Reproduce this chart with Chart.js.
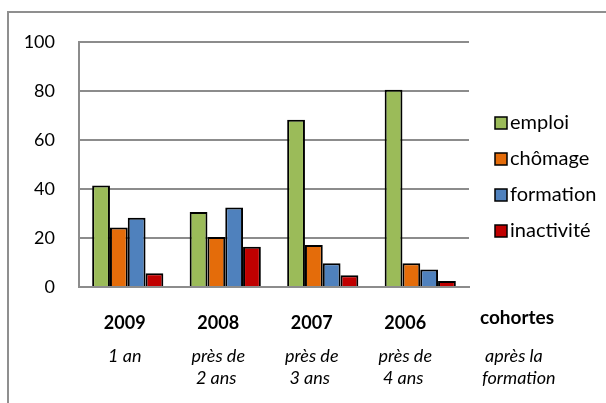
<!DOCTYPE html>
<html>
<head>
<meta charset="utf-8">
<script src="https://cdn.jsdelivr.net/npm/chart.js@4"></script>
<style>
  html, body { margin: 0; padding: 0; background: #fff; }
  #wrap { position: relative; width: 606px; height: 403px; }
</style>
</head>
<body>
<div id="wrap"><canvas id="chart" width="606" height="403"></canvas></div>
<script>
/* Situation des cohortes après la formation */

const cohortes = ["2009", "2008", "2007", "2006"];
const delais = [["1 an"], ["près de", "2 ans"], ["près de", "3 ans"], ["près de", "4 ans"]];
const emploi = [41.4, 30.6, 68.3, 80.5];
const chomage = [24.3, 20.4, 17.1, 9.7];
const formation = [28.3, 32.5, 9.7, 7.1];
const inactivite = [5.6, 16.4, 4.8, 2.5];
const yTicks = [0, 20, 40, 60, 80, 100];

const FONT = "Lato, 'Open Sans', sans-serif";
const GRID = "#8c8c8c";

const decorPlugin = {
  id: "decor",
  beforeDraw(chart) {
    const { ctx, width, height } = chart;
    ctx.save();
    ctx.fillStyle = "#fff";
    ctx.fillRect(0, 0, width, height);
    // outer frame (only left and top visible)
    ctx.strokeStyle = "#8f8f8f";
    ctx.lineWidth = 2;
    ctx.beginPath();
    ctx.moveTo(8, height);
    ctx.lineTo(8, 12);
    ctx.lineTo(width, 12);
    ctx.stroke();
    ctx.restore();
  },
  afterDraw(chart) {
    const { ctx, chartArea } = chart;
    const x = chart.scales.x;
    ctx.save();
    ctx.fillStyle = "#000";
    ctx.textAlign = "center";
    ctx.textBaseline = "middle";
    cohortes.forEach((c, i) => {
      const cx = x.getPixelForValue(i) - 3 - 4 * i;
      ctx.font = "bold 18px " + FONT;
      ctx.fillText(c, cx, 323);
      ctx.font = "italic 18px " + FONT;
      delais[i].forEach((line, j) => {
        ctx.fillText(line, cx + (j ? -2 : 0), 356 + j * 22);
      });
    });
    ctx.font = "bold 19px " + FONT;
    ctx.fillText("cohortes", chartArea.right + 48, 318);
    ctx.font = "italic 18px " + FONT;
    ctx.textAlign = "left";
    ctx.fillText("après la", chartArea.right + 16, 356);
    ctx.fillText("formation", chartArea.right + 13, 378);

    // legend
    ctx.font = "20px " + FONT;
    chart.data.datasets.forEach((ds, i) => {
      const ly = 123 + i * 36;
      ctx.fillStyle = ds.backgroundColor;
      ctx.fillRect(495, ly - 6, 12, 12);
      ctx.strokeStyle = "#000";
      ctx.lineWidth = 1.5;
      ctx.strokeRect(495, ly - 6, 12, 12);
      ctx.fillStyle = "#000";
      ctx.textAlign = "left";
      ctx.fillText(ds.label, 510, ly);
    });
    ctx.restore();
  }
};

function bars(label, data, color) {
  return {
    label,
    data,
    backgroundColor: color,
    borderColor: "#000",
    borderWidth: 2,
    barPercentage: 1,
    categoryPercentage: 0.73
  };
}

new Chart(document.getElementById("chart"), {
  type: "bar",
  data: {
    labels: cohortes,
    datasets: [
      bars("emploi", emploi, "#9bbb59"),
      bars("chômage", chomage, "#e46c0a"),
      bars("formation", formation, "#4f81bd"),
      bars("inactivité", inactivite, "#c00000")
    ]
  },
  options: {
    responsive: false,
    animation: false,
    layout: { padding: { top: 42, right: 137, bottom: 108, left: 0 } },
    plugins: { legend: { display: false }, tooltip: { enabled: false } },
    scales: {
      x: {
        ticks: { display: false },
        grid: { display: false },
        border: { display: true, color: GRID, width: 2 }
      },
      y: {
        min: 0,
        max: 100,
        afterFit(scale) { scale.width = 79; },
        afterBuildTicks(scale) { scale.ticks = yTicks.map((v) => ({ value: v })); },
        ticks: { color: "#000", font: { family: FONT, size: 18 }, padding: 24 },
        grid: { color: GRID, lineWidth: 2, drawTicks: false },
        border: { display: true, color: GRID, width: 2 }
      }
    }
  },
  plugins: [decorPlugin]
});
</script>
</body>
</html>
